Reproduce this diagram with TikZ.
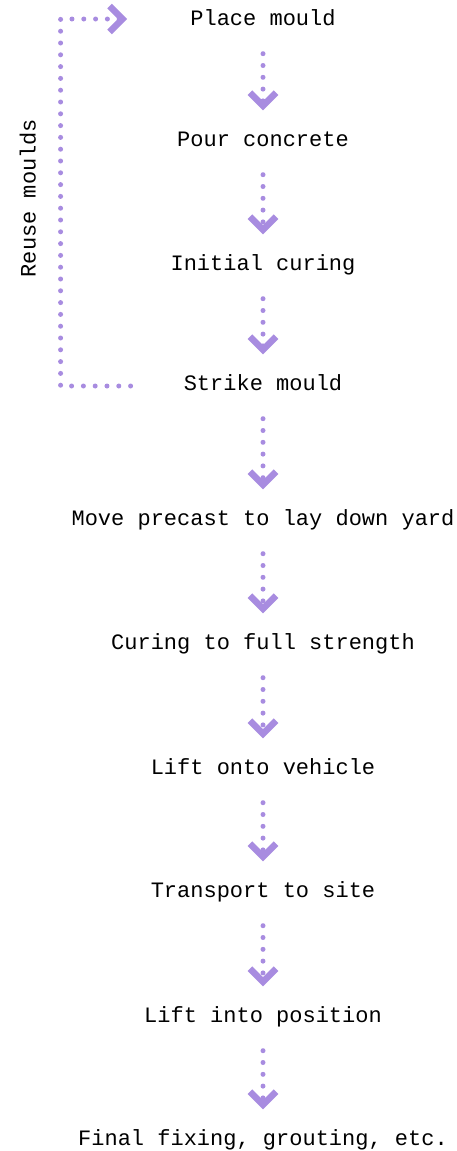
\documentclass[tikz,border=0pt]{standalone}
\usepackage{fontspec}
\setmonofont{Liberation Mono}
\usepackage{xcolor}
\usetikzlibrary{arrows.meta}
\definecolor{lavender}{RGB}{168,140,224}

\begin{document}
\begin{tikzpicture}[x=1pt,y=1pt]
      \tikzstyle{every step}=[font=\ttfamily\fontsize{22}{26}\selectfont,text=black,inner sep=0pt,text height=15pt,text depth=0pt]
      \tikzstyle{flow}=[draw=lavender,line width=5pt,line cap=round,dash pattern=on 0pt off 11.8pt,
        -{Straight Barb[length=13pt,width=26pt,line width=6.5pt,line cap=butt]}]
      \useasboundingbox (0,0) rectangle (456,-1151);

      % Process steps
      \node[every step] (S-1) at (263,-18) {Place mould};
      \node[every step] (S-2) at (263,-139) {Pour concrete};
      \node[every step] (S-3) at (263,-263) {Initial curing};
      \node[every step] (S-4) at (263,-383) {Strike mould};
      \node[every step] (S-5) at (263,-518) {Move precast to lay down yard};
      \node[every step] (S-6) at (263,-642) {Curing to full strength};
      \node[every step] (S-7) at (263,-767) {Lift onto vehicle};
      \node[every step] (S-8) at (263,-890) {Transport to site};
      \node[every step] (S-9) at (263,-1015) {Lift into position};
      \node[every step] (S-10) at (263,-1138) {Final fixing, grouting, etc.};

      % Loop label
      \node[every step,rotate=90] (reuse) at (28,-198) {Reuse moulds};

      % Connections: step to step
      \foreach \i [evaluate=\i as \j using int(\i+1)] in {1,...,9}
        \draw[flow,shorten <=28pt,shorten >=21pt] (S-\i) -- (S-\j);

      % Connection: strike mould back to place mould
      \draw[flow,shorten <=53pt,shorten >=63pt] ([yshift=-3pt]S-4.west) -- ++(-123,0) |- ([yshift=-1pt]S-1.west);
\end{tikzpicture}
\end{document}
